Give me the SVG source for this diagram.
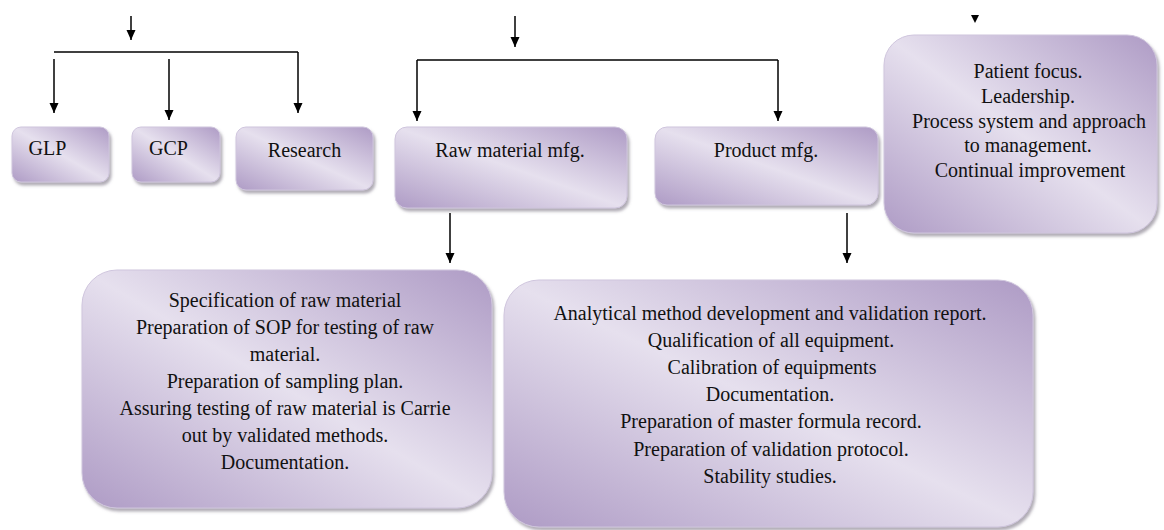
<svg xmlns="http://www.w3.org/2000/svg" width="1164" height="530" viewBox="0 0 1164 530">
<defs>
<linearGradient id="g" x1="1" y1="0" x2="0" y2="1">
<stop offset="0" stop-color="#ae9bc5"/>
<stop offset="0.5" stop-color="#e6e0ee"/>
<stop offset="1" stop-color="#ae9bc5"/>
</linearGradient>
<filter id="sh" x="-5%" y="-5%" width="115%" height="120%">
<feDropShadow dx="2" dy="3" stdDeviation="1.5" flood-color="#6e6878" flood-opacity="0.55"/>
</filter>
<marker id="ah" markerUnits="userSpaceOnUse" markerWidth="10" markerHeight="10" refX="10" refY="4.5" orient="auto">
<path d="M0,0 L10,4.5 L0,9 z" fill="#000"/>
</marker>
</defs>
<style>
.box{fill:url(#g);stroke:#cfc5dd;stroke-width:1;filter:url(#sh)}
.t{font-family:'Liberation Serif',serif;font-size:20px;fill:#111}
.c{fill:none;stroke:#000;stroke-width:1.5}
.a{marker-end:url(#ah)}
</style>
<rect width="1164" height="530" fill="#fff"/>
<g id="connectors">
<path class="c a" d="M131,16 V40"/>
<path class="c" d="M54,52 H298"/>
<path class="c a" d="M54,59 V113"/>
<path class="c a" d="M169,59 V120"/>
<path class="c a" d="M298,52 V113"/>
<path class="c a" d="M515,16 V47"/>
<path class="c" d="M417,60 H778"/>
<path class="c a" d="M417,60 V121"/>
<path class="c a" d="M778,60 V121"/>
<path class="c a" d="M450,213 V263"/>
<path class="c a" d="M847,213 V263"/>
<polygon points="971,15 979,15 975,23" fill="#000"/>
</g>
<g id="glp">
<rect class="box" x="12" y="127" width="97" height="55" rx="9"/>
<text class="t" text-anchor="middle" x="47.5" y="155">GLP</text>
</g>
<g id="gcp">
<rect class="box" x="132" y="127" width="88" height="55" rx="9"/>
<text class="t" text-anchor="middle" x="168.5" y="155">GCP</text>
</g>
<g id="research">
<rect class="box" x="236" y="127" width="137" height="63" rx="10"/>
<text class="t" text-anchor="middle" x="304.5" y="157">Research</text>
</g>
<g id="raw-material-mfg">
<rect class="box" x="395" y="127" width="232" height="81" rx="12"/>
<text class="t" text-anchor="middle" x="510" y="157">Raw material mfg.</text>
</g>
<g id="product-mfg">
<rect class="box" x="655" y="127" width="223" height="78" rx="12"/>
<text class="t" text-anchor="middle" x="766" y="157">Product mfg.</text>
</g>
<g id="qms-principles">
<rect class="box" x="884" y="35" width="273" height="198" rx="30"/>
<text class="t" text-anchor="middle" x="1028" y="78">Patient focus.</text>
<text class="t" text-anchor="middle" x="1028" y="103">Leadership.</text>
<text class="t" text-anchor="middle" x="1029" y="128">Process system and approach</text>
<text class="t" text-anchor="middle" x="1028" y="152">to management.</text>
<text class="t" text-anchor="middle" x="1030" y="177">Continual improvement</text>
</g>
<g id="raw-material-tasks">
<rect class="box" x="82" y="270" width="410" height="238" rx="35"/>
<text class="t" text-anchor="middle" x="285" y="307">Specification of raw material</text>
<text class="t" text-anchor="middle" x="285" y="334">Preparation of SOP for testing of raw</text>
<text class="t" text-anchor="middle" x="285" y="361">material.</text>
<text class="t" text-anchor="middle" x="285" y="388">Preparation of sampling plan.</text>
<text class="t" text-anchor="middle" x="285" y="415">Assuring testing of raw material is Carrie</text>
<text class="t" text-anchor="middle" x="285" y="442">out by validated methods.</text>
<text class="t" text-anchor="middle" x="285" y="469">Documentation.</text>
</g>
<g id="product-tasks">
<rect class="box" x="504" y="280" width="529" height="247" rx="35"/>
<text class="t" text-anchor="middle" x="770" y="320">Analytical method development and validation report.</text>
<text class="t" text-anchor="middle" x="771" y="347">Qualification of all equipment.</text>
<text class="t" text-anchor="middle" x="772" y="374">Calibration of equipments</text>
<text class="t" text-anchor="middle" x="770" y="401">Documentation.</text>
<text class="t" text-anchor="middle" x="771" y="428">Preparation of master formula record.</text>
<text class="t" text-anchor="middle" x="771" y="456">Preparation of validation protocol.</text>
<text class="t" text-anchor="middle" x="770" y="483">Stability studies.</text>
</g>
</svg>
